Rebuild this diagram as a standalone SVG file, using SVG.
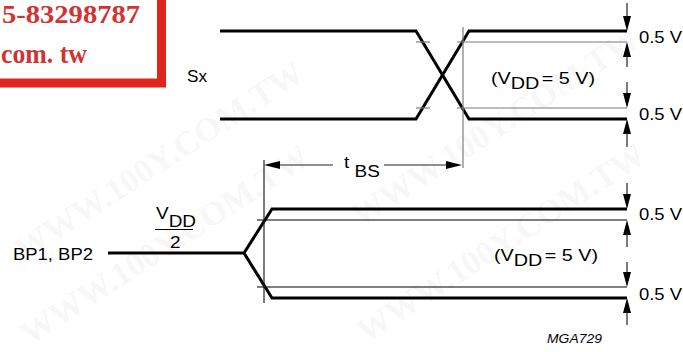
<svg xmlns="http://www.w3.org/2000/svg" xmlns:xlink="http://www.w3.org/1999/xlink" width="683" height="352" viewBox="0 0 683 352">
<style>
.bg{fill:#fff}
.wm{font-family:"Liberation Serif","Times New Roman",serif;font-weight:bold;font-size:34px;fill:#000;fill-opacity:0.055}
.stamp{font-family:"Liberation Serif","Times New Roman",serif;font-weight:bold;fill:#cf3434}
.thick{fill:none;stroke:#000;stroke-width:3;stroke-linejoin:miter}
.thin{fill:none;stroke:#000;stroke-width:1.2}
.grey{fill:none;stroke:#7d7d7d;stroke-width:1.2}
.dim{fill:none;stroke:#222;stroke-width:1.2}
.lbl{font-family:"Liberation Sans",Arial,sans-serif;font-size:16.5px;fill:#000}
.code{font-family:"Liberation Sans",Arial,sans-serif;font-size:13px;font-style:italic;fill:#000}
.ah{fill:#000}
</style>
<defs>
<path id="aDown" d="M0,0 L-4,-15 L4,-15 Z"/>
<path id="aUp" d="M0,0 L-4,15 L4,15 Z"/>
<path id="aLeft" d="M0,0 L16,-4 L16,4 Z"/>
<path id="aRight" d="M0,0 L-16,-4 L-16,4 Z"/>
</defs>
<rect class="bg" x="0" y="0" width="683" height="352"/>

<g id="watermark">
<text class="wm" transform="translate(24,262) rotate(-33)">WWW.100Y.COM.TW</text>
<text class="wm" transform="translate(30,346) rotate(-33)">WWW.100Y.COM.TW</text>
<text class="wm" transform="translate(360,228) rotate(-33)">WWW.100Y.COM.TW</text>
<text class="wm" transform="translate(366,344) rotate(-33)">WWW.100Y.COM.TW</text>
</g>

<g id="stamp">
<rect x="-20" y="-20" width="181.5" height="103" fill="#fff" stroke="#e0261c" stroke-width="9"/>
<text class="stamp" x="2" y="23" font-size="25" textLength="138" lengthAdjust="spacingAndGlyphs">5-83298787</text>
<text class="stamp" x="1" y="63" font-size="27" textLength="86" lengthAdjust="spacingAndGlyphs">com. tw</text>
</g>

<g id="connectors">
<g id="sx-wave">
<polyline class="thick" points="220,31 416,31 469,119 627,119"/>
<polyline class="thick" points="220,119 416,119 469,31 627,31"/>
<line class="grey" x1="457" y1="42" x2="627" y2="42"/>
<line class="grey" x1="457" y1="108" x2="627" y2="108"/>
<line class="grey" x1="416" y1="42" x2="430" y2="42"/>
<line class="grey" x1="416" y1="108" x2="430" y2="108"/>
<line class="grey" x1="463" y1="27" x2="463" y2="168"/>
</g>
<g id="bp-wave">
<polyline class="thick" points="108,253 244,253 272,209 627,209"/>
<polyline class="thick" points="244,253 272,298 627,298"/>
<line class="thin" x1="257" y1="220" x2="627" y2="220"/>
<line class="thin" x1="257" y1="287" x2="627" y2="287"/>
<line class="dim" x1="264" y1="160" x2="264" y2="303"/>
</g>
<g id="tbs-dim">
<line class="dim" x1="270" y1="165" x2="333" y2="165"/>
<line class="dim" x1="384" y1="165" x2="456" y2="165"/>
<use href="#aLeft" class="ah" x="264" y="165"/>
<use href="#aRight" class="ah" x="462" y="165"/>
</g>
<g id="dim-top">
<line class="dim" x1="627" y1="3" x2="627" y2="20"/>
<use href="#aDown" class="ah" x="627" y="31"/>
<use href="#aUp" class="ah" x="627" y="42"/>
<line class="dim" x1="627" y1="55" x2="627" y2="67"/>
<line class="dim" x1="627" y1="82" x2="627" y2="97"/>
<use href="#aDown" class="ah" x="627" y="108"/>
<use href="#aUp" class="ah" x="627" y="119"/>
<line class="dim" x1="627" y1="132" x2="627" y2="147"/>
</g>
<g id="dim-bottom">
<line class="dim" x1="627" y1="183" x2="627" y2="198"/>
<use href="#aDown" class="ah" x="627" y="209"/>
<use href="#aUp" class="ah" x="627" y="220"/>
<line class="dim" x1="627" y1="233" x2="627" y2="247"/>
<line class="dim" x1="627" y1="262" x2="627" y2="276"/>
<use href="#aDown" class="ah" x="627" y="287"/>
<use href="#aUp" class="ah" x="627" y="298"/>
<line class="dim" x1="627" y1="311" x2="627" y2="325"/>
</g>
</g>

<g id="label-sx"><text class="lbl" x="187" y="82" textLength="20" lengthAdjust="spacingAndGlyphs">Sx</text></g>
<g id="label-bp"><text class="lbl" x="13" y="260" font-size="17" textLength="80" lengthAdjust="spacingAndGlyphs">BP1, BP2</text></g>
<g id="label-vdd2">
<text class="lbl" transform="translate(156,219) scale(1.15,1)">V<tspan dy="8">DD</tspan></text>
<line class="thin" x1="155" y1="229.5" x2="193" y2="229.5"/>
<text class="lbl" transform="translate(170,248) scale(1.15,1)">2</text>
</g>
<g id="label-tbs"><text class="lbl" transform="translate(344,168) scale(1.15,1)">t <tspan dy="9">BS</tspan></text></g>
<g id="label-vdd-top"><text class="lbl" transform="translate(491,84) scale(1.2,1)">(V<tspan dy="4.5">DD</tspan><tspan dy="-4.5" dx="2">= 5 V)</tspan></text></g>
<g id="label-vdd-bottom"><text class="lbl" transform="translate(494,261) scale(1.2,1)">(V<tspan dy="4.5">DD</tspan><tspan dy="-4.5" dx="2">= 5 V)</tspan></text></g>
<g id="label-05">
<text class="lbl" x="639" y="43" textLength="43" lengthAdjust="spacingAndGlyphs">0.5 V</text>
<text class="lbl" x="639" y="120" textLength="43" lengthAdjust="spacingAndGlyphs">0.5 V</text>
<text class="lbl" x="639" y="220" textLength="43" lengthAdjust="spacingAndGlyphs">0.5 V</text>
<text class="lbl" x="639" y="300" textLength="43" lengthAdjust="spacingAndGlyphs">0.5 V</text>
</g>
<g id="label-code"><text class="code" x="547" y="343" textLength="55" lengthAdjust="spacingAndGlyphs">MGA729</text></g>
</svg>
